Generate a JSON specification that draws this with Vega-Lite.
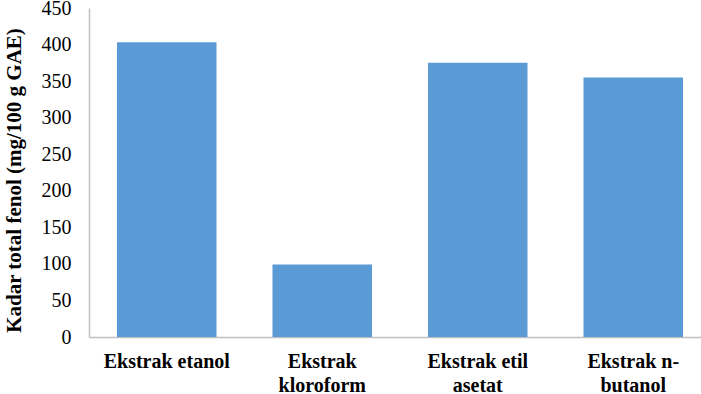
{
  "$schema": "https://vega.github.io/schema/vega-lite/v6.json",
  "autosize": "none",
  "width": 622,
  "height": 329,
  "padding": {"left": 89, "top": 8, "right": 0, "bottom": 57},
  "background": "white",
  "data": {
    "values": [
      {"ekstrak": "Ekstrak etanol", "fenol": 403},
      {"ekstrak": "Ekstrak kloroform", "fenol": 99},
      {"ekstrak": "Ekstrak etil asetat", "fenol": 375},
      {"ekstrak": "Ekstrak n-butanol", "fenol": 355}
    ]
  },
  "mark": {"type": "bar", "color": "#5B9BD5"},
  "encoding": {
    "x": {
      "field": "ekstrak",
      "type": "nominal",
      "sort": null,
      "scale": {"paddingInner": 0.36, "paddingOuter": 0.18},
      "axis": {
        "title": null,
        "labelAngle": 0,
        "ticks": false,
        "domainColor": "#BFBFBF",
        "domainWidth": 1.5,
        "labelFont": "Liberation Serif",
        "labelFontWeight": "bold",
        "labelFontSize": 20,
        "labelColor": "#000000",
        "labelPadding": 14,
        "labelLineHeight": 24,
        "labelBaseline": "top",
        "labelExpr": "datum.value == 'Ekstrak kloroform' ? ['Ekstrak', 'kloroform'] : datum.value == 'Ekstrak etil asetat' ? ['Ekstrak etil', 'asetat'] : datum.value == 'Ekstrak n-butanol' ? ['Ekstrak n-', 'butanol'] : datum.value"
      }
    },
    "y": {
      "field": "fenol",
      "type": "quantitative",
      "scale": {"domain": [0, 450]},
      "axis": {
        "title": "Kadar total fenol (mg/100 g GAE)",
        "titleFont": "Liberation Serif",
        "titleFontWeight": "bold",
        "titleFontSize": 21,
        "titleColor": "#000000",
        "titlePadding": 17,
        "titleY": 172,
        "values": [0, 50, 100, 150, 200, 250, 300, 350, 400, 450],
        "grid": false,
        "ticks": false,
        "domainColor": "#BFBFBF",
        "domainWidth": 1.5,
        "labelFont": "Liberation Serif",
        "labelFontSize": 20,
        "labelColor": "#000000",
        "labelPadding": 18
      }
    }
  },
  "config": {"view": {"stroke": null}}
}
